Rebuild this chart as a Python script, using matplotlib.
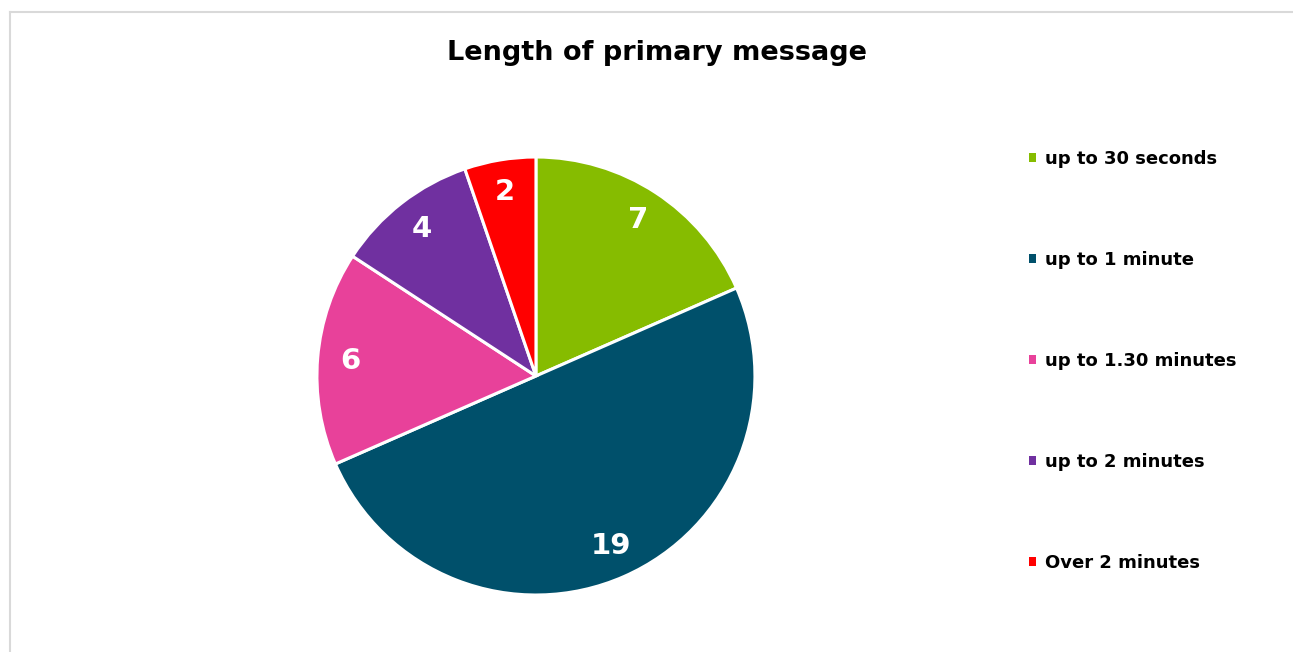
import matplotlib
matplotlib.use("Agg")
import matplotlib.pyplot as plt
from matplotlib.lines import Line2D

# data
labels = ["up to 30 seconds", "up to 1 minute", "up to 1.30 minutes",
          "up to 2 minutes", "Over 2 minutes"]
counts = [7, 19, 6, 4, 2]
colors = ["#86BC00", "#00506B", "#E8419A", "#7030A0", "#FF0000"]

plt.rcParams['font.family'] = ['DejaVu Sans']

fig = plt.figure(figsize=(12.93, 6.52), dpi=100)
ax = fig.add_axes([0.2451, 0.0874, 0.3388, 0.6718])

total = sum(counts)
wedges, texts, autotexts = ax.pie(
    counts, colors=colors, startangle=90, counterclock=False,
    radius=1.0, pctdistance=0.85,
    autopct=lambda p: "{:d}".format(int(round(p * total / 100.0))),
    wedgeprops=dict(edgecolor="white", linewidth=2.2),
    textprops=dict(color="white", fontsize=21, fontweight="bold"))
ax.set_xlim(-1, 1)
ax.set_ylim(-1, 1)
ax.set_aspect("equal")

# title
fig.text(657 / 1293, 1 - 53 / 652, "Length of primary message",
         ha="center", va="center", fontsize=19.5, fontweight="bold")

# legend
leg = fig.legend(wedges, labels, loc="upper left",
                 bbox_to_anchor=(1020 / 1293, 1 - 141 / 652),
                 frameon=False, handlelength=0.4, handleheight=0.4,
                 handletextpad=0.5, labelspacing=4.6, borderpad=0,
                 prop=dict(size=13, weight="bold"))
for h in leg.legend_handles:
    h.set_edgecolor("none")

# chart border (top and left visible)
fig.add_artist(Line2D([10 / 1293, 10 / 1293], [0, 1 - 11.5 / 652],
                      transform=fig.transFigure, color="#D9D9D9", lw=1.5))
fig.add_artist(Line2D([10 / 1293, 1], [1 - 11.5 / 652, 1 - 11.5 / 652],
                      transform=fig.transFigure, color="#D9D9D9", lw=1.5))

fig.savefig("out.png", dpi=100, facecolor="white")
